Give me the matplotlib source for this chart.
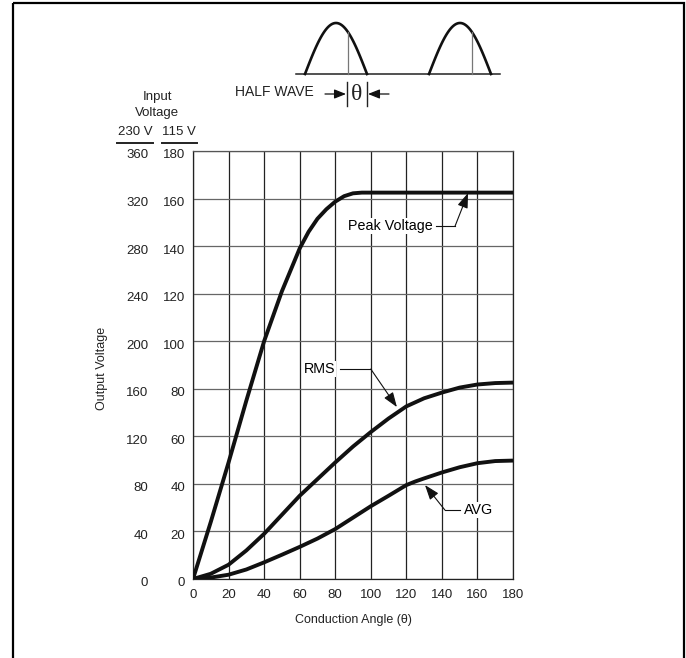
import numpy as np
import matplotlib
matplotlib.use("Agg")
import matplotlib.pyplot as plt
import matplotlib.transforms as mtransforms
from matplotlib.patches import Rectangle

plt.rcParams['font.family'] = ['Liberation Sans', 'DejaVu Sans']

# conduction angle (deg) and output voltage on the 115 V scale
peak_angle = [0, 10, 20, 30, 40, 50, 60, 65, 70, 75, 80, 85, 90, 95, 100, 120, 140, 160, 180]
peak_volts = [0, 24, 49, 75, 100, 121, 139, 146, 151.5, 155.5, 158.7, 161, 162.2, 162.5, 162.5, 162.5, 162.5, 162.5, 162.5]

rms_angle = [0, 10, 20, 30, 40, 50, 60, 70, 80, 90, 100, 110, 120, 130, 140, 150, 160, 170, 180]
rms_volts = [0, 2.2, 6, 12, 19, 27, 35, 42, 49, 55.7, 61.8, 67.5, 72.6, 76, 78.4, 80.5, 81.8, 82.4, 82.6]

avg_angle = [0, 10, 20, 30, 40, 50, 60, 70, 80, 90, 100, 110, 120, 125, 130, 140, 150, 160, 170, 180]
avg_volts = [0, 0.6, 1.8, 4, 7, 10.2, 13.5, 17, 21, 25.8, 30.6, 35, 39.5, 41, 42.3, 44.8, 47, 48.7, 49.6, 49.8]

angle_ticks = list(range(0, 181, 20))
ticks_115 = list(range(0, 181, 20))
labels_115 = [str(v) for v in ticks_115]
labels_230 = [str(v) for v in range(0, 361, 40)]

W, H = 686, 658
fig = plt.figure(figsize=(W / 100, H / 100), dpi=100)

# pixel box of the plot area
x0, x1, y0, y1 = 193, 513, 151, 579
ax = fig.add_axes([x0 / W, 1 - y1 / H, (x1 - x0) / W, (y1 - y0) / H])
ax.set_xlim(0, 180)
ax.set_ylim(0, 180)
ax.set_xticks(angle_ticks)
ax.set_yticks(ticks_115)
ax.set_yticklabels([])
ax.tick_params(length=0, labelsize=9.5, colors='#222')
ax.tick_params(axis='x', pad=7)
ax.xaxis.grid(True, color='#222', lw=0.9)
ax.yaxis.grid(True, color='#666', lw=0.9)
ax.set_axisbelow(True)
for side, sp in ax.spines.items():
    sp.set_color('#555' if side == 'top' else '#222')
    sp.set_linewidth(0.9)

for xs, ys in [(peak_angle, peak_volts), (rms_angle, rms_volts), (avg_angle, avg_volts)]:
    ax.plot(xs, ys, color='#111', lw=2.8, solid_capstyle='butt', solid_joinstyle='round', zorder=3)

# both input-voltage columns, sitting a little under their grid lines
down = mtransforms.ScaledTranslation(0, -3 / 100, fig.dpi_scale_trans)
ytr = ax.get_yaxis_transform() + down
for v, lab115, lab230 in zip(ticks_115, labels_115, labels_230):
    ax.text(-0.025, v, lab115, transform=ytr, ha='right', va='center_baseline', fontsize=9.5, color='#222')
    ax.text(-0.14, v, lab230, transform=ytr, ha='right', va='center_baseline', fontsize=9.5, color='#222')

# callouts
arrow = dict(arrowstyle='-|>,head_length=0.5,head_width=0.18', color='#111', lw=0.8,
             mutation_scale=18, shrinkA=0, shrinkB=0)
box = dict(fc='white', ec='none', pad=0.5)

ax.text(110.8, 148.4, 'Peak Voltage', ha='center', va='center', fontsize=10.3, bbox=box, zorder=4)
ax.plot([136.8, 147.4], [148.4, 148.4], color='#111', lw=0.8, zorder=4)
ax.annotate('', xy=(154.7, 162.3), xytext=(147.4, 148.4), arrowprops=arrow, zorder=4)

ax.text(71, 88.3, 'RMS', ha='center', va='center', fontsize=10.3, bbox=box, zorder=4)
ax.plot([82.8, 100], [88.3, 88.3], color='#111', lw=0.8, zorder=4)
ax.annotate('', xy=(114.7, 72.3), xytext=(100, 88.3), arrowprops=arrow, zorder=4)

ax.text(160.8, 29, 'AVG', ha='center', va='center', fontsize=10.3, bbox=box, zorder=4)
ax.plot([150.0, 141.7], [29, 29], color='#111', lw=0.8, zorder=4)
ax.annotate('', xy=(130.5, 39.5), xytext=(141.7, 29), arrowprops=arrow, zorder=4)

# overlay in pixel coordinates for the header, labels and frame
ov = fig.add_axes([0, 0, 1, 1])
ov.set_xlim(0, W)
ov.set_ylim(H, 0)
ov.axis('off')
ov.patch.set_visible(False)

ov.add_patch(Rectangle((12.5, 3), 671, 700, fill=False, ec='black', lw=1.6))

ov.text(157, 97, 'Input', ha='center', va='center', fontsize=9.5, color='#222')
ov.text(157, 113, 'Voltage', ha='center', va='center', fontsize=9.5, color='#222')
ov.text(135, 132, '230 V', ha='center', va='center', fontsize=9.5, color='#222')
ov.text(179, 132, '115 V', ha='center', va='center', fontsize=9.5, color='#222')
ov.plot([117, 153], [143, 143], color='#222', lw=1.4)
ov.plot([162, 197], [143, 143], color='#222', lw=1.4)

ov.text(102, 368, 'Output Voltage', rotation=90, ha='center', va='center', fontsize=9, color='#222')
ov.text(353, 620, 'Conduction Angle (θ)', ha='center', va='center', fontsize=9, color='#222')

# half-wave sketch
base_y, amp = 74, 51
ov.plot([296, 500], [base_y, base_y], color='#222', lw=1.1)
t = np.linspace(0, 1, 80)
for start in (305, 429):
    width = 62
    ov.plot(start + width * t, base_y - amp * np.sin(np.pi * t), color='#111', lw=1.9)
    tc = 0.69
    ov.plot([start + width * tc] * 2, [base_y, base_y - amp * np.sin(np.pi * tc)], color='#777', lw=0.9)

ov.text(235, 92, 'HALF WAVE', ha='left', va='center', fontsize=10, color='#222')
ov.plot([347, 347], [82, 106], color='#222', lw=1.0)
ov.plot([367, 367], [82, 106], color='#222', lw=1.0)
ov.text(357, 94, 'θ', ha='center', va='center', fontsize=17, family=['Liberation Serif', 'DejaVu Serif'], color='#222')
small = dict(arrowstyle='-|>,head_length=0.5,head_width=0.2', color='#111', lw=0.9,
             mutation_scale=14, shrinkA=0, shrinkB=0)
ov.annotate('', xy=(346, 94), xytext=(325, 94), arrowprops=small)
ov.annotate('', xy=(368, 94), xytext=(389, 94), arrowprops=small)

fig.savefig('out.png', dpi=100)
